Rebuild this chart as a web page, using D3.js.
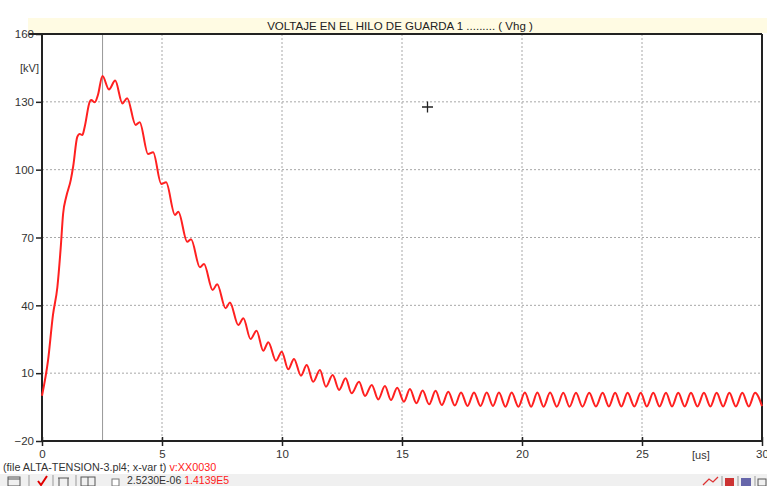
<!DOCTYPE html>
<html>
<head>
<meta charset="utf-8">
<script src="https://cdn.jsdelivr.net/npm/d3@7"></script>
<style>
  body { margin: 0; background: #fff; }
  svg { display: block; font-family: "Liberation Sans", Arial, sans-serif; }
</style>
</head>
<body>
<svg id="canvas"></svg>
<script>
// Canvas size
const width = 767, height = 486;

// Plot data: time [us] and voltage [kV] (peaks and troughs)
const timeUs = [
  0, 0.25, 0.46, 0.64, 0.78, 0.88, 1.01, 1.2, 1.3, 1.47, 1.57, 1.68, 1.78, 1.99, 2.05, 2.2, 2.33, 2.52,
  2.79, 3.05, 3.35, 3.55, 3.9, 4.07, 4.42, 4.63, 4.97, 5.17, 5.54, 5.68, 6.05, 6.21, 6.58, 6.75,
  7.11, 7.3, 7.65, 7.83, 8.18, 8.39, 8.69, 8.94, 9.22, 9.43, 9.75, 9.99, 10.26, 10.5, 10.79, 11.03,
  11.3, 11.58, 11.83, 12.11, 12.38, 12.65, 12.9, 13.21, 13.46, 13.74, 14.01, 14.29, 14.54, 14.8,
  15.08, 15.33, 15.6, 15.86, 16.13, 16.4, 16.66, 16.93, 17.2, 17.46, 17.73, 18.0, 18.27, 18.53,
  18.79, 19.04, 19.31, 19.57, 19.85, 20.12, 20.38, 20.64, 20.9, 21.17, 21.45, 21.72, 21.98, 22.25,
  22.52, 22.8, 23.08, 23.36, 23.62, 23.88, 24.14, 24.4, 24.68, 24.95, 25.2, 25.47, 25.73, 26.0,
  26.25, 26.51, 26.78, 27.04, 27.31, 27.58, 27.85, 28.11, 28.38, 28.64, 28.91, 29.18, 29.45, 29.71, 30.0
];
const voltageKV = [
  0, 15.5, 36, 48, 65.5, 80.5, 88, 95.5, 101.5, 114.5, 115.8, 115.3, 119, 130.1, 130.8, 129.8, 133, 141.4,
  135.5, 139.4, 129.3, 131.6, 119.8, 121.0, 106.9, 107.7, 93.7, 94.4, 80.0, 81.4, 68.1, 69.2, 56.8, 58.3,
  46.8, 49.3, 38.7, 41.3, 31.3, 34.3, 25.1, 28.8, 19.9, 23.7, 15.5, 19.5, 11.7, 16.3, 8.9, 13.6,
  6.2, 11.4, 4.0, 9.2, 2.6, 7.7, 1.1, 6.2, -0.1, 4.8, -1.6, 4.3, -1.9, 3.6,
  -2.6, 3.0, -3.3, 2.3, -3.8, 2.2, -4.1, 1.8, -4.3, 1.5, -4.5, 1.5, -4.5, 1.4,
  -4.5, 1.4, -4.8, 1.4, -4.8, 1.4, -4.8, 1.4, -4.8, 1.4, -4.8, 1.3, -4.8, 1.3,
  -4.8, 1.3, -4.7, 1.3, -4.7, 1.3, -4.7, 1.3, -4.7, 1.3, -4.7, 1.3, -4.7, 1.3,
  -4.7, 1.3, -4.7, 1.3, -4.7, 1.3, -4.7, 1.3, -4.7, 1.3, -4.7, 1.3, -4.7, 1.3, -4.6
];

// Ticks
const xTicks = [0, 5, 10, 15, 20, 25, 30];
const yTicks = [-20, 10, 40, 70, 100, 130, 160];

// Cursor readout
const cursorT = 2.523;
const cursorLabel = "2.5230E-06";
const cursorValue = "1.4139E5";

const title = "VOLTAJE EN EL HILO DE GUARDA  1 ......... ( Vhg )";

// Plot area
const plotLeft = 42, plotRight = 762, plotTop = 34, plotBottom = 441;

const svg = d3.select("#canvas")
    .attr("width", width)
    .attr("height", height);

const x = d3.scaleLinear().domain([0, 30]).range([plotLeft, plotRight]);
const y = d3.scaleLinear().domain([-20, 160]).range([plotBottom, plotTop]);

// Title bar
svg.append("rect")
    .attr("x", 28).attr("y", 18).attr("width", width - 28).attr("height", 15)
    .attr("fill", "#fffbe3");
svg.append("text")
    .attr("x", 400).attr("y", 30)
    .attr("text-anchor", "middle")
    .attr("font-size", 11.5)
    .attr("fill", "#222")
    .text(title);

// Grid lines (dotted)
svg.append("g").selectAll("line")
    .data(xTicks.filter(d => d > 0 && d < 30))
    .enter().append("line")
    .attr("x1", d => x(d)).attr("x2", d => x(d))
    .attr("y1", plotTop).attr("y2", plotBottom)
    .attr("stroke", "#a8a8a8").attr("stroke-dasharray", "2,2");
svg.append("g").selectAll("line")
    .data(yTicks.filter(d => d > -20 && d < 160))
    .enter().append("line")
    .attr("x1", plotLeft).attr("x2", plotRight)
    .attr("y1", d => y(d)).attr("y2", d => y(d))
    .attr("stroke", "#a8a8a8").attr("stroke-dasharray", "2,2");

// Cursor line
svg.append("line")
    .attr("x1", x(cursorT)).attr("x2", x(cursorT))
    .attr("y1", plotTop).attr("y2", plotBottom)
    .attr("stroke", "#999").attr("stroke-width", 1);

// Axes
const yAxis = svg.append("g")
    .attr("transform", `translate(${plotLeft},0)`)
    .call(d3.axisLeft(y).tickValues(yTicks).tickSize(6).tickPadding(2));
const xAxis = svg.append("g")
    .attr("transform", `translate(0,${plotBottom})`)
    .call(d3.axisBottom(x).tickValues(xTicks).tickSize(5).tickPadding(4));

[xAxis, yAxis].forEach(g => {
    g.select(".domain").remove();
    g.selectAll("text").attr("font-size", 11.5).attr("fill", "#333")
        .attr("font-family", "'Liberation Sans', Arial, sans-serif");
    g.selectAll(".tick line").attr("stroke", "#222").attr("stroke-width", 1.5);
});
// x ticks cross the axis line
xAxis.selectAll(".tick line").attr("y1", -4).attr("y2", 5);

// Frame
svg.append("line").attr("x1", 29).attr("x2", plotRight).attr("y1", plotTop).attr("y2", plotTop)
    .attr("stroke", "#222").attr("stroke-width", 2);
svg.append("line").attr("x1", plotLeft).attr("x2", plotRight + 1).attr("y1", plotBottom).attr("y2", plotBottom)
    .attr("stroke", "#222").attr("stroke-width", 2);
svg.append("line").attr("x1", plotLeft).attr("x2", plotLeft).attr("y1", plotTop).attr("y2", plotBottom)
    .attr("stroke", "#222").attr("stroke-width", 2);
svg.append("line").attr("x1", plotRight).attr("x2", plotRight).attr("y1", plotTop).attr("y2", plotBottom)
    .attr("stroke", "#222").attr("stroke-width", 2);

// Unit labels
svg.append("text").attr("x", 20).attr("y", 72)
    .attr("font-size", 11).attr("fill", "#333").text("[kV]");
svg.append("text").attr("x", 692).attr("y", 459)
    .attr("font-size", 11).attr("fill", "#333").text("[us]");

// Curve
const points = timeUs.map((t, i) => [t, voltageKV[i]]);
const line = d3.line()
    .x(d => x(d[0]))
    .y(d => y(d[1]))
    .curve(d3.curveMonotoneX);
svg.append("path")
    .datum(points)
    .attr("d", line)
    .attr("fill", "none")
    .attr("stroke", "#ff2020")
    .attr("stroke-width", 2);

// Cross marker
svg.append("path")
    .attr("d", "M422,107H433M427.5,101.5V112.5")
    .attr("stroke", "#222").attr("stroke-width", 1.3);

// Footer text
const foot = svg.append("text").attr("x", 3).attr("y", 471).attr("font-size", 10.8);
foot.append("tspan").attr("fill", "#333").text("(file ALTA-TENSION-3.pl4; x-var t) ");
foot.append("tspan").attr("fill", "#ff2020").text("v:XX0030");

// Toolbar
svg.append("rect").attr("x", 0).attr("y", 474).attr("width", width).attr("height", 12)
    .attr("fill", "#f0f0f0");
const tb = svg.append("g");
tb.append("rect").attr("x", 8).attr("y", 477).attr("width", 12).attr("height", 9)
    .attr("fill", "none").attr("stroke", "#555");
tb.append("line").attr("x1", 8).attr("x2", 20).attr("y1", 479).attr("y2", 479).attr("stroke", "#555");
tb.append("line").attr("x1", 29).attr("x2", 29).attr("y1", 475).attr("y2", 486).attr("stroke", "#999");
tb.append("path").attr("d", "M38,481L41,485L47,476").attr("fill", "none")
    .attr("stroke", "#e00000").attr("stroke-width", 2);
tb.append("line").attr("x1", 53).attr("x2", 53).attr("y1", 475).attr("y2", 486).attr("stroke", "#999");
tb.append("path").attr("d", "M58,478H69M59,478V486M68,478V486").attr("fill", "none").attr("stroke", "#555");
tb.append("line").attr("x1", 76).attr("x2", 76).attr("y1", 475).attr("y2", 486).attr("stroke", "#999");
tb.append("rect").attr("x", 81).attr("y", 477).attr("width", 14).attr("height", 9)
    .attr("fill", "none").attr("stroke", "#555");
tb.append("line").attr("x1", 88).attr("x2", 88).attr("y1", 477).attr("y2", 486).attr("stroke", "#555");
tb.append("rect").attr("x", 112).attr("y", 479).attr("width", 7).attr("height", 7)
    .attr("fill", "#fff").attr("stroke", "#777");
const ct = tb.append("text").attr("x", 127).attr("y", 484).attr("font-size", 10.5);
ct.append("tspan").attr("fill", "#333").text(cursorLabel + " ");
ct.append("tspan").attr("fill", "#ff2020").text(cursorValue);

// Right-hand toolbar icons
tb.append("path").attr("d", "M703,485L709,479L713,482L718,477").attr("fill", "none")
    .attr("stroke", "#d33").attr("stroke-width", 1.3);
tb.append("line").attr("x1", 722).attr("x2", 722).attr("y1", 476).attr("y2", 486).attr("stroke", "#999");
tb.append("rect").attr("x", 725).attr("y", 478).attr("width", 9).attr("height", 8).attr("fill", "#c33");
tb.append("line").attr("x1", 738).attr("x2", 738).attr("y1", 476).attr("y2", 486).attr("stroke", "#999");
tb.append("rect").attr("x", 741).attr("y", 478).attr("width", 10).attr("height", 8).attr("fill", "#66a");
tb.append("line").attr("x1", 755).attr("x2", 755).attr("y1", 476).attr("y2", 486).attr("stroke", "#999");
tb.append("rect").attr("x", 758).attr("y", 479).attr("width", 8).attr("height", 7)
    .attr("fill", "none").attr("stroke", "#555");
</script>
</body>
</html>
